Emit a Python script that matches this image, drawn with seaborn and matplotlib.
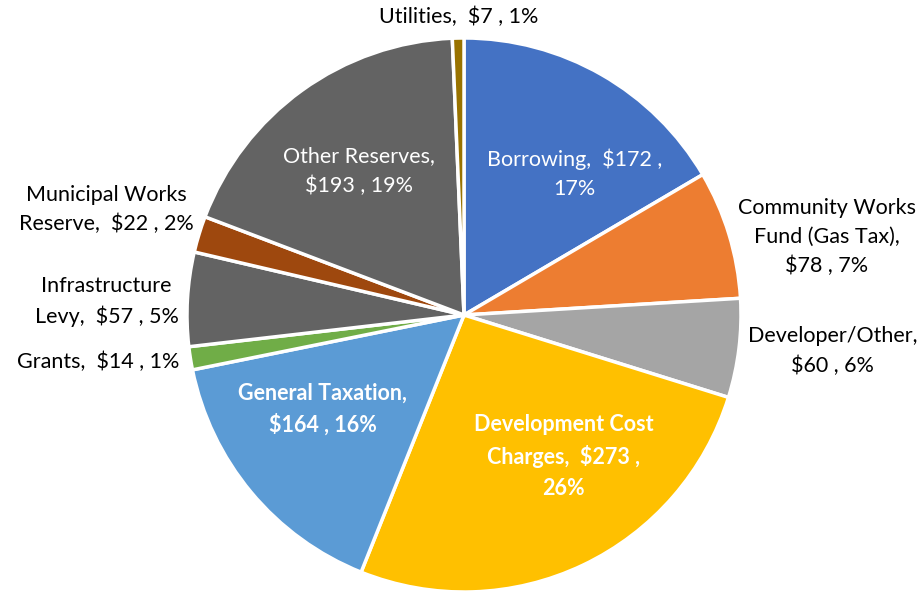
import matplotlib
matplotlib.use('Agg')
import matplotlib.pyplot as plt
import seaborn as sns

# Capital funding sources ($ thousands)
sources = ['Borrowing', 'Community Works Fund (Gas Tax)', 'Developer/Other',
           'Development Cost Charges', 'General Taxation', 'Grants',
           'Infrastructure Levy', 'Municipal Works Reserve', 'Other Reserves',
           'Utilities']
amounts = [172, 78, 60, 273, 164, 14, 57, 22, 193, 7]
percents = [17, 7, 6, 26, 16, 1, 5, 2, 19, 1]
labels = ['Borrowing,  $172 ,\n17%',
          'Community Works\nFund (Gas Tax),\n$78 , 7%',
          'Developer/Other,\n$60 , 6%',
          'Development Cost\nCharges,  $273 ,\n26%',
          'General Taxation,\n$164 , 16%',
          'Grants,  $14 , 1%',
          'Infrastructure\nLevy,  $57 , 5%',
          'Municipal Works\nReserve,  $22 , 2%',
          'Other Reserves,\n$193 , 19%',
          'Utilities,  $7 , 1%']

colors = ['#4472C4', '#ED7D31', '#A5A5A5', '#FFC000', '#5B9BD5',
          '#70AD47', '#636363', '#9E480E', '#636363', '#997300']

# label placement (pie radius = 1) and style
label_pos = [(0.40, 0.51), (1.31, 0.28), (1.33, -0.13), (0.36, -0.51),
             (-0.51, -0.34), (-1.32, -0.17), (-1.29, 0.05), (-1.29, 0.38),
             (-0.38, 0.52), (-0.02, 1.075)]
label_color = ['white', 'black', 'black', 'white', 'white',
               'black', 'black', 'black', 'white', 'black']
label_weight = ['normal', 'normal', 'normal', 'bold', 'bold',
                'normal', 'normal', 'normal', 'normal', 'normal']

sns.set_theme(style='white')
plt.rcParams['font.family'] = ['Lato', 'DejaVu Sans']

fig = plt.figure(figsize=(9.19, 5.93), dpi=100)
ax = fig.add_axes([0, 0, 1, 1])
ax.pie(amounts, colors=colors, startangle=90, counterclock=False,
       radius=1.0, wedgeprops=dict(edgecolor='white', linewidth=2.5))

for lab, pos, c, w in zip(labels, label_pos, label_color, label_weight):
    ax.text(pos[0], pos[1], lab, ha='center', va='center', color=c,
            fontsize=15.5, fontweight=w, linespacing=1.55,
            multialignment='center')

ax.set_aspect('auto')
ax.set_xlim(-464 / 277, (919 - 464) / 277)
ax.set_ylim((315 - 593) / 277, 315 / 277)
ax.axis('off')

fig.savefig('out.png', dpi=100)
